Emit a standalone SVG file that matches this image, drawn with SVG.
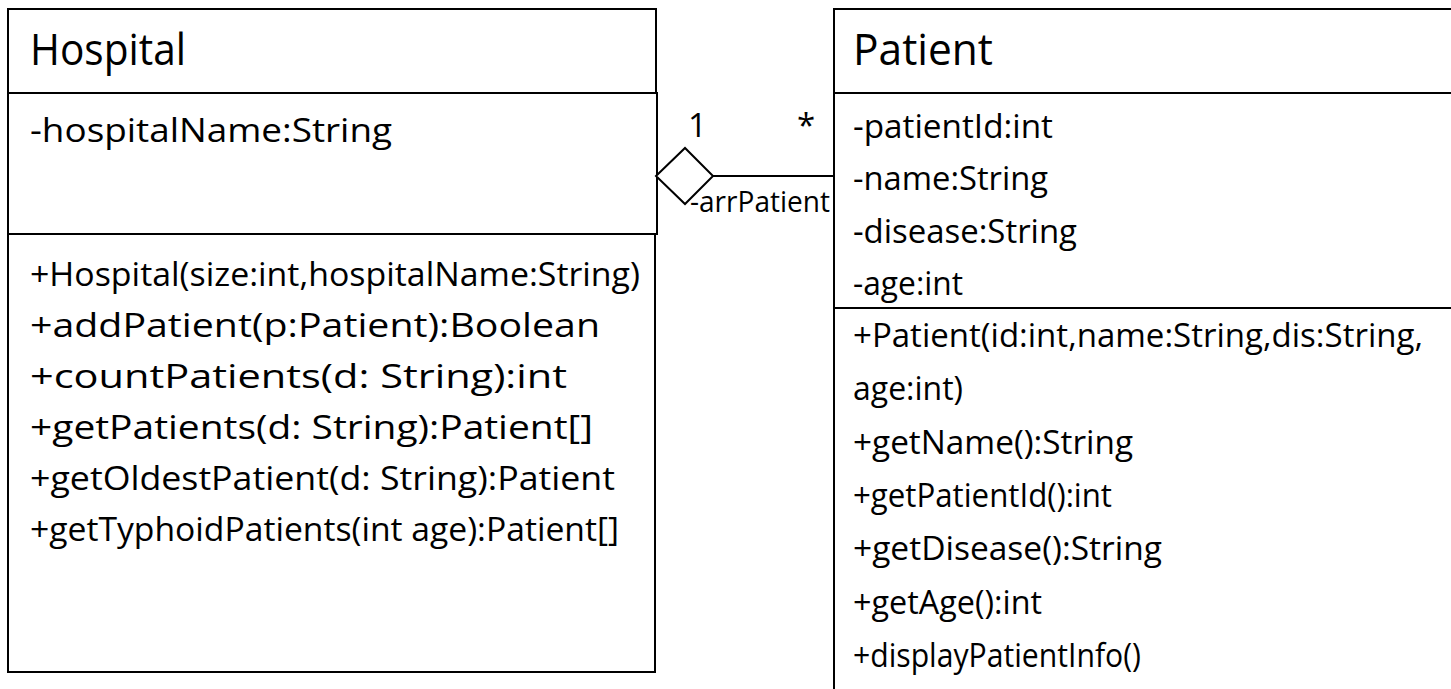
<svg xmlns="http://www.w3.org/2000/svg" width="1451" height="689" viewBox="0 0 1451 689">
<style>
.box{fill:#fff;stroke:#000;stroke-width:2}
.t{font-family:"Open Sans","Liberation Sans",sans-serif;fill:#000}
.title{font-size:43px}
.m{font-size:33px}
.s{font-size:33px}
.lbl{font-size:30px}
</style>
<rect width="1451" height="689" fill="#fff"/>
<g id="hospital">
<rect class="box" x="8" y="9" width="648" height="84"/>
<rect class="box" x="8" y="93" width="649" height="141"/>
<rect class="box" x="8" y="234" width="647" height="438"/>
<text class="t title" x="30" y="65" textLength="156" lengthAdjust="spacingAndGlyphs">Hospital</text>
<text class="t m" x="30" y="142" textLength="362" lengthAdjust="spacingAndGlyphs">-hospitalName:String</text>
<text class="t m" x="30" y="286" textLength="610" lengthAdjust="spacingAndGlyphs">+Hospital(size:int,hospitalName:String)</text>
<text class="t m" x="30" y="337" textLength="570" lengthAdjust="spacingAndGlyphs">+addPatient(p:Patient):Boolean</text>
<text class="t m" x="30" y="388" textLength="537" lengthAdjust="spacingAndGlyphs">+countPatients(d: String):int</text>
<text class="t m" x="30" y="439" textLength="563" lengthAdjust="spacingAndGlyphs">+getPatients(d: String):Patient[]</text>
<text class="t m" x="30" y="490" textLength="585" lengthAdjust="spacingAndGlyphs">+getOldestPatient(d: String):Patient</text>
<text class="t m" x="30" y="541" textLength="589" lengthAdjust="spacingAndGlyphs">+getTyphoidPatients(int age):Patient[]</text>
</g>
<g id="patient">
<rect class="box" x="834" y="9" width="640" height="84"/>
<rect class="box" x="834" y="93" width="640" height="215"/>
<rect class="box" x="834" y="308" width="640" height="420"/>
<text class="t title" x="853" y="65" textLength="140" lengthAdjust="spacingAndGlyphs">Patient</text>
<text class="t m" x="853" y="138" textLength="200" lengthAdjust="spacingAndGlyphs">-patientId:int</text>
<text class="t m" x="853" y="190" textLength="195" lengthAdjust="spacingAndGlyphs">-name:String</text>
<text class="t m" x="853" y="243" textLength="224" lengthAdjust="spacingAndGlyphs">-disease:String</text>
<text class="t m" x="853" y="295" textLength="110" lengthAdjust="spacingAndGlyphs">-age:int</text>
<text class="t m" x="853" y="347" textLength="570" lengthAdjust="spacingAndGlyphs">+Patient(id:int,name:String,dis:String,</text>
<text class="t m" x="853" y="400" textLength="110" lengthAdjust="spacingAndGlyphs">age:int)</text>
<text class="t m" x="853" y="454" textLength="280" lengthAdjust="spacingAndGlyphs">+getName():String</text>
<text class="t m" x="853" y="507" textLength="259" lengthAdjust="spacingAndGlyphs">+getPatientId():int</text>
<text class="t m" x="853" y="560" textLength="309" lengthAdjust="spacingAndGlyphs">+getDisease():String</text>
<text class="t m" x="853" y="614" textLength="189" lengthAdjust="spacingAndGlyphs">+getAge():int</text>
<text class="t m" x="853" y="667" textLength="288" lengthAdjust="spacingAndGlyphs">+displayPatientInfo()</text>
</g>
<g id="connectors">
<line x1="713" y1="176" x2="834" y2="176" stroke="#000" stroke-width="2"/>
<polygon points="656,176 685,148 713,176 685,204" fill="#fff" stroke="#000" stroke-width="2"/>
<text class="t s" x="688" y="137">1</text>
<text class="t s" x="797" y="137">*</text>
<text class="t lbl" x="690" y="212" textLength="140" lengthAdjust="spacingAndGlyphs">-arrPatient</text>
</g>
</svg>
